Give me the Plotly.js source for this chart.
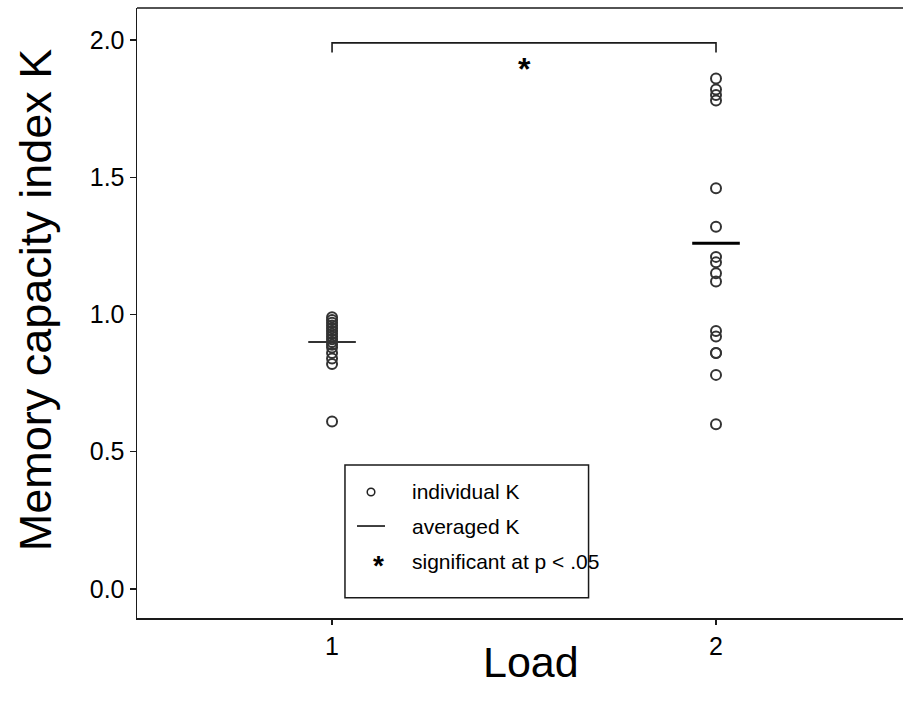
<!DOCTYPE html>
<html>
<head>
<meta charset="utf-8">
<script src="https://cdn.plot.ly/plotly-3.0.1.min.js"></script>
<style>
  html, body { margin: 0; padding: 0; background: #fff; overflow: hidden; }
  #chart { width: 903px; height: 710px; }
</style>
</head>
<body>
<div id="chart"></div>
<script>
// Memory load conditions
const loads = [1, 2];

// Individual K per participant, load 1 and load 2
const kLoad1 = [0.99, 0.98, 0.97, 0.96, 0.95, 0.94, 0.93, 0.92, 0.91, 0.90,
                0.89, 0.88, 0.86, 0.84, 0.82, 0.61];
const kLoad2 = [1.86, 1.82, 1.80, 1.78, 1.46, 1.32, 1.21, 1.19, 1.15, 1.12,
                0.94, 0.92, 0.86, 0.86, 0.78, 0.60];

// Averaged K per load
const kMean = [0.90, 1.26];

// Significance bracket between the two loads
const sigBracketY = 1.99;
const sigBracketDrop = 0.035;
const sigMarkY = 1.895;
const sigLabel = '*';

// Legend entries
const legendLabels = ['individual K', 'averaged K', 'significant at p < .05'];

// Axis ticks and titles
const yTicks = [0.0, 0.5, 1.0, 1.5, 2.0];
const yTickText = ['0.0', '0.5', '1.0', '1.5', '2.0'];
const xTitle = 'Load';
const yTitle = 'Memory capacity index K';

const FONT = 'Liberation Sans, Arial, sans-serif';
const INK = '#1a1a1a';

const traces = [
  {
    type: 'scatter', mode: 'markers', name: legendLabels[0],
    x: kLoad1.map(() => loads[0]).concat(kLoad2.map(() => loads[1])),
    y: kLoad1.concat(kLoad2),
    marker: { symbol: 'circle-open', size: 10, color: '#333', line: { width: 2, color: '#333' } },
    showlegend: false, hoverinfo: 'x+y'
  },
  {
    type: 'scatter', mode: 'markers', name: legendLabels[1],
    x: loads, y: kMean,
    marker: { symbol: 'line-ew', size: 34, color: '#111', line: { width: [2, 3], color: ['#333', '#000'] } },
    showlegend: false, hoverinfo: 'x+y'
  }
];

// Legend box geometry (paper coordinates)
const lgX0 = 0.2715, lgX1 = 0.5895, lgY0 = 0.033, lgY1 = 0.251;
const lgRows = [0.2066, 0.1508, 0.0934];
const lgSymX = 0.3055, lgTextX = 0.357;

const shapes = [
  // top frame line
  { type: 'line', xref: 'paper', yref: 'paper', x0: 0, x1: 1, y0: 1, y1: 1,
    line: { color: INK, width: 1.5 } },
  // significance bracket
  { type: 'path', xref: 'x', yref: 'y',
    path: `M${loads[0]},${sigBracketY - sigBracketDrop} L${loads[0]},${sigBracketY} ` +
          `L${loads[1]},${sigBracketY} L${loads[1]},${sigBracketY - sigBracketDrop}`,
    line: { color: INK, width: 1.6 } },
  // legend box
  { type: 'rect', xref: 'paper', yref: 'paper', x0: lgX0, x1: lgX1, y0: lgY0, y1: lgY1,
    fillcolor: '#fff', line: { color: INK, width: 1.5 }, layer: 'above' },
  // legend symbol: circle
  { type: 'circle', xref: 'paper', yref: 'paper', xsizemode: 'pixel', ysizemode: 'pixel',
    xanchor: lgSymX, yanchor: lgRows[0], x0: -3.8, x1: 3.8, y0: -3.8, y1: 3.8,
    line: { color: '#222', width: 1.5 }, layer: 'above' },
  // legend symbol: line
  { type: 'line', xref: 'paper', yref: 'paper', xsizemode: 'pixel',
    xanchor: lgSymX, x0: -14, x1: 14, y0: lgRows[1], y1: lgRows[1],
    line: { color: '#111', width: 1.6 }, layer: 'above' }
];

const annotations = [
  // significance mark under the bracket
  { xref: 'x', yref: 'y', x: (loads[0] + loads[1]) / 2, y: sigMarkY, text: '<b>' + sigLabel + '</b>',
    showarrow: false, font: { family: FONT, size: 32, color: '#000' } },
  // legend mark for significance
  { xref: 'paper', yref: 'paper', x: lgSymX, y: lgRows[2] - 0.036, text: '<b>' + sigLabel + '</b>',
    showarrow: false, font: { family: FONT, size: 28, color: '#000' } },
  // axis titles
  { xref: 'paper', yref: 'paper', x: 0.514, y: -0.072, text: xTitle,
    xanchor: 'center', yanchor: 'middle', showarrow: false,
    font: { family: FONT, size: 43, color: '#000' } },
  { xref: 'paper', yref: 'paper', x: -0.133, y: 0.521, text: yTitle, textangle: -90,
    xanchor: 'center', yanchor: 'middle', showarrow: false,
    font: { family: FONT, size: 45, color: '#000' } }
].concat(legendLabels.map((t, i) => ({
  xref: 'paper', yref: 'paper', x: lgTextX, y: lgRows[i], text: t,
  xanchor: 'left', yanchor: 'middle', showarrow: false,
  font: { family: FONT, size: 21, color: '#000' }
})));

const layout = {
  width: 903, height: 710,
  margin: { l: 137, r: 0, t: 8, b: 92, pad: 0 },
  paper_bgcolor: '#fff', plot_bgcolor: '#fff',
  showlegend: false,
  font: { family: FONT, color: '#000' },
  xaxis: {
    range: [0.492, 2.487], tickvals: loads, ticktext: loads.map(String),
    ticks: 'outside', ticklen: 5, tickwidth: 1.3, tickcolor: INK,
    showline: true, linecolor: INK, linewidth: 1.5,
    showgrid: false, zeroline: false,
    tickfont: { family: FONT, size: 25, color: '#000' }
  },
  yaxis: {
    range: [-0.106, 2.117], tickvals: yTicks, ticktext: yTickText,
    ticks: 'outside', ticklen: 6, tickwidth: 1.3, tickcolor: INK,
    showline: true, linecolor: INK, linewidth: 1.5,
    showgrid: false, zeroline: false,
    tickfont: { family: FONT, size: 25, color: '#000' }
  },
  shapes: shapes,
  annotations: annotations
};

Plotly.newPlot('chart', traces, layout, { displayModeBar: false, staticPlot: true });
</script>
</body>
</html>
